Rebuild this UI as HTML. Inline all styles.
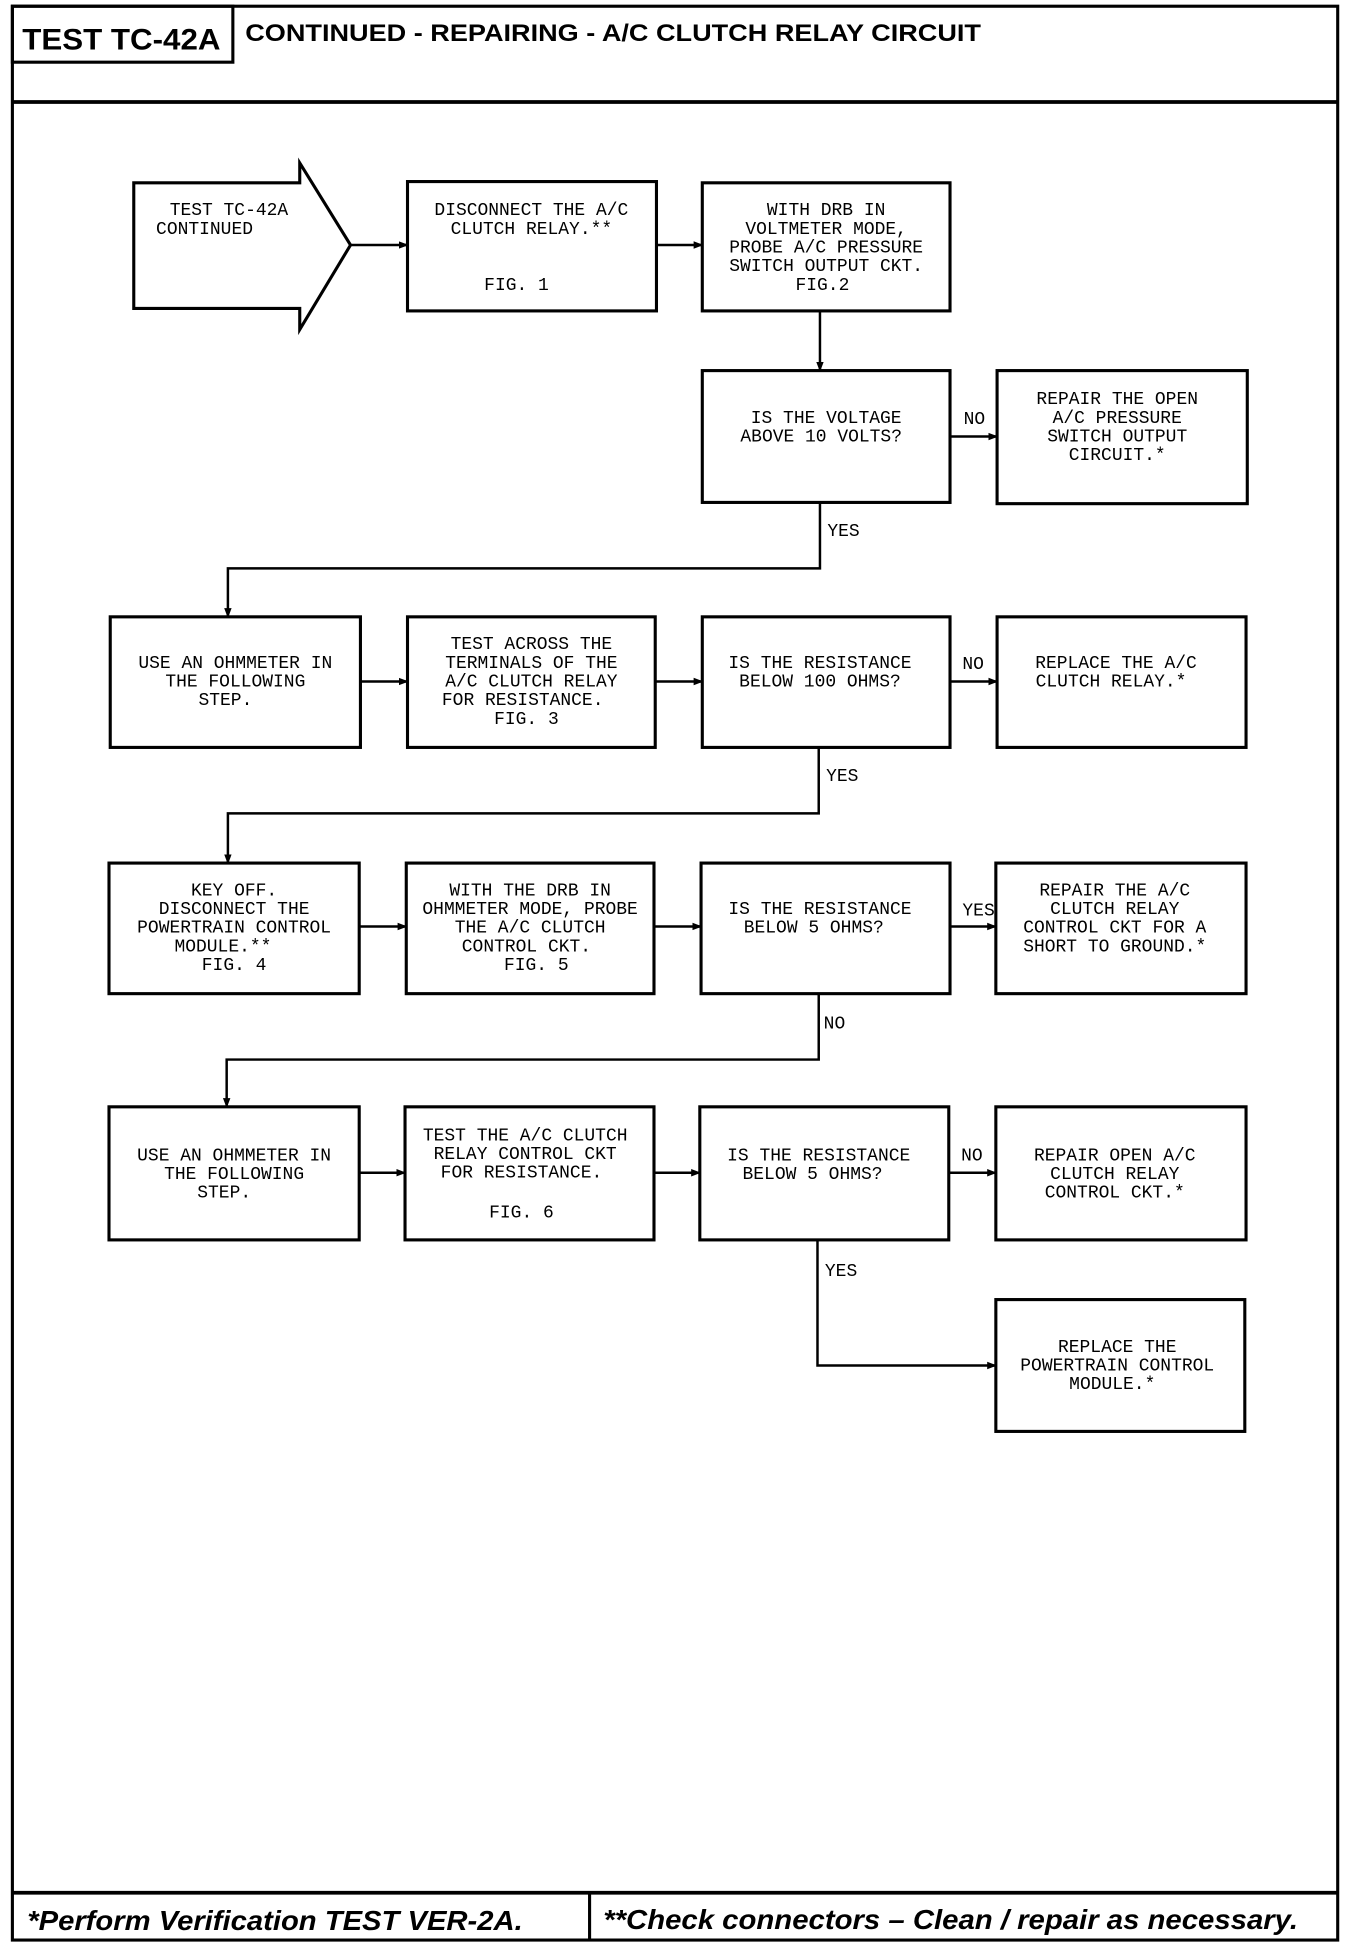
<!DOCTYPE html>
<html><head><meta charset="utf-8"><style>
html,body{margin:0;padding:0;background:#fff;}
svg{display:block;}
.t{font-family:"Liberation Mono",monospace;font-size:14.5px;fill:#000;text-anchor:middle;}
.l{font-family:"Liberation Mono",monospace;font-size:14.5px;fill:#000;}
</style></head><body>
<svg width="1360" height="1950" viewBox="0 0 1098 1568" preserveAspectRatio="none" xmlns="http://www.w3.org/2000/svg">
<defs><marker id="a" markerWidth="8" markerHeight="8" refX="7" refY="4" orient="auto" markerUnits="userSpaceOnUse"><path d="M0,1 L8,4 L0,7 z" fill="#000"/></marker></defs>
<g fill="none" stroke="#000" stroke-width="2.5">
<rect x="10" y="5" width="1070" height="1555"/>
<rect x="10" y="5" width="178" height="45"/>
<line x1="10" y1="82" x2="1080" y2="82" stroke-width="3"/>
<line x1="10" y1="1522" x2="1080" y2="1522" stroke-width="3"/>
<line x1="476" y1="1522" x2="476" y2="1560"/>
<path d="M242,147 L108,147 L108,248 L242,248 L242,265 L283,197 L242,131 Z"/>
<rect x="329" y="146" width="201" height="104"/>
<rect x="567" y="147" width="200" height="103"/>
<rect x="567" y="298" width="200" height="106"/>
<rect x="805" y="298" width="202" height="107"/>
<rect x="89" y="496" width="202" height="105"/>
<rect x="329" y="496" width="200" height="105"/>
<rect x="567" y="496" width="200" height="105"/>
<rect x="805" y="496" width="201" height="105"/>
<rect x="88" y="694" width="202" height="105"/>
<rect x="328" y="694" width="200" height="105"/>
<rect x="566" y="694" width="201" height="105"/>
<rect x="804" y="694" width="202" height="105"/>
<rect x="88" y="890" width="202" height="107"/>
<rect x="327" y="890" width="201" height="107"/>
<rect x="565" y="890" width="201" height="107"/>
<rect x="804" y="890" width="202" height="107"/>
<rect x="804" y="1045" width="201" height="106"/>
</g>
<g fill="none" stroke="#000" stroke-width="2" marker-end="url(#a)">
<line x1="283" y1="197" x2="329" y2="197"/>
<line x1="530" y1="197" x2="567" y2="197"/>
<line x1="662" y1="250" x2="662" y2="298"/>
<line x1="767" y1="351" x2="805" y2="351"/>
<polyline points="662,404 662,457 184,457 184,496"/>
<line x1="291" y1="548" x2="329" y2="548"/>
<line x1="529" y1="548" x2="567" y2="548"/>
<line x1="767" y1="548" x2="805" y2="548"/>
<polyline points="661,601 661,654 184,654 184,694"/>
<line x1="290" y1="745" x2="328" y2="745"/>
<line x1="528" y1="745" x2="566" y2="745"/>
<line x1="767" y1="745" x2="804" y2="745"/>
<polyline points="661,799 661,852 183,852 183,890"/>
<line x1="290" y1="943" x2="327" y2="943"/>
<line x1="528" y1="943" x2="565" y2="943"/>
<line x1="766" y1="943" x2="804" y2="943"/>
<polyline points="660,997 660,1098 804,1098"/>
</g>
<text x="18" y="40" font-family="Liberation Sans,sans-serif" font-weight="bold" font-size="24" textLength="160" lengthAdjust="spacingAndGlyphs">TEST TC-42A</text>
<text x="198" y="33" font-family="Liberation Sans,sans-serif" font-weight="bold" font-size="19" textLength="594" lengthAdjust="spacingAndGlyphs">CONTINUED -  REPAIRING - A/C CLUTCH RELAY CIRCUIT</text>
<text x="22" y="1552" font-family="Liberation Sans,sans-serif" font-weight="bold" font-style="italic" font-size="22" textLength="400" lengthAdjust="spacingAndGlyphs">*Perform Verification TEST VER-2A.</text>
<text x="487" y="1551" font-family="Liberation Sans,sans-serif" font-weight="bold" font-style="italic" font-size="22" textLength="561" lengthAdjust="spacingAndGlyphs">**Check connectors – Clean / repair as necessary.</text>
<g class="l">
<text x="137" y="173">TEST TC-42A</text>
<text x="126" y="188">CONTINUED</text>
<text x="778" y="341">NO</text>
<text x="668" y="431">YES</text>
<text x="777" y="538">NO</text>
<text x="667" y="628">YES</text>
<text x="777" y="736">YES</text>
<text x="665" y="827">NO</text>
<text x="776" y="933">NO</text>
<text x="666" y="1026">YES</text>
</g>
<g class="t">
<text x="429" y="173">DISCONNECT THE A/C</text>
<text x="429" y="188">CLUTCH RELAY.**</text>
<text x="417" y="233">FIG. 1</text>
<text x="667" y="173">WITH DRB IN</text>
<text x="667" y="188">VOLTMETER MODE,</text>
<text x="667" y="203">PROBE A/C PRESSURE</text>
<text x="667" y="218">SWITCH OUTPUT CKT.</text>
<text x="664" y="233">FIG.2</text>
<text x="667" y="340">IS THE VOLTAGE</text>
<text x="663" y="355">ABOVE 10 VOLTS?</text>
<text x="902" y="325">REPAIR THE OPEN</text>
<text x="902" y="340">A/C PRESSURE</text>
<text x="902" y="355">SWITCH OUTPUT</text>
<text x="902" y="370">CIRCUIT.*</text>
<text x="190" y="537">USE AN OHMMETER IN</text>
<text x="190" y="552">THE FOLLOWING</text>
<text x="182" y="567">STEP.</text>
<text x="429" y="522">TEST ACROSS THE</text>
<text x="429" y="537">TERMINALS OF THE</text>
<text x="429" y="552">A/C CLUTCH RELAY</text>
<text x="422" y="567">FOR RESISTANCE.</text>
<text x="425" y="582">FIG. 3</text>
<text x="662" y="537">IS THE RESISTANCE</text>
<text x="662" y="552">BELOW 100 OHMS?</text>
<text x="901" y="537">REPLACE THE A/C</text>
<text x="897" y="552">CLUTCH RELAY.*</text>
<text x="189" y="720">KEY OFF.</text>
<text x="189" y="735">DISCONNECT THE</text>
<text x="189" y="750">POWERTRAIN CONTROL</text>
<text x="180" y="765">MODULE.**</text>
<text x="189" y="780">FIG. 4</text>
<text x="428" y="720">WITH THE DRB IN</text>
<text x="428" y="735">OHMMETER MODE, PROBE</text>
<text x="428" y="750">THE A/C CLUTCH</text>
<text x="425" y="765">CONTROL CKT.</text>
<text x="433" y="780">FIG. 5</text>
<text x="662" y="735">IS THE RESISTANCE</text>
<text x="657" y="750">BELOW 5 OHMS?</text>
<text x="900" y="720">REPAIR THE A/C</text>
<text x="900" y="735">CLUTCH RELAY</text>
<text x="900" y="750">CONTROL CKT FOR A</text>
<text x="900" y="765">SHORT TO GROUND.*</text>
<text x="189" y="933">USE AN OHMMETER IN</text>
<text x="189" y="948">THE FOLLOWING</text>
<text x="181" y="963">STEP.</text>
<text x="424" y="917">TEST THE A/C CLUTCH</text>
<text x="424" y="932">RELAY CONTROL CKT</text>
<text x="421" y="947">FOR RESISTANCE.</text>
<text x="421" y="979">FIG. 6</text>
<text x="661" y="933">IS THE RESISTANCE</text>
<text x="656" y="948">BELOW 5 OHMS?</text>
<text x="900" y="933">REPAIR OPEN A/C</text>
<text x="900" y="948">CLUTCH RELAY</text>
<text x="900" y="963">CONTROL CKT.*</text>
<text x="902" y="1087">REPLACE THE</text>
<text x="902" y="1102">POWERTRAIN CONTROL</text>
<text x="898" y="1117">MODULE.*</text>
</g>
</svg>
</body></html>
